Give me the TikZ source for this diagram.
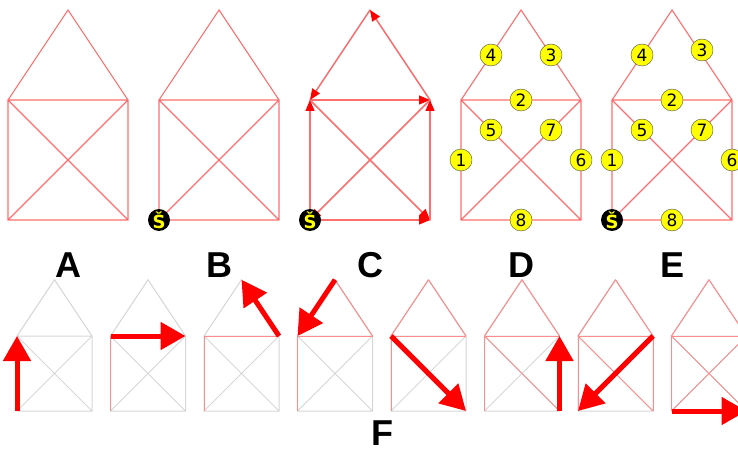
\documentclass[tikz,border=0pt]{standalone}
\usepackage{fontspec}
\setmainfont{DejaVu Sans}
\newfontfamily\lblfont{Liberation Sans}
\usepackage{xcolor}
\usetikzlibrary{arrows.meta, positioning, calc}
\definecolor{lightred}{RGB}{255,110,110}
\definecolor{pale}{RGB}{214,214,214}
\definecolor{tracered}{RGB}{255,140,140}
\definecolor{numyellow}{RGB}{255,255,0}
\def\route{bl/tl/.5/1, tl/tr/.5/2, tr/top/.5/3, top/tl/.5/4, tl/br/.25/5, br/tr/.5/6, tr/bl/.25/7, bl/br/.5/8}

\begin{document}
\begin{tikzpicture}[x=1pt, y=-1pt,
    hline/.style={draw=lightred, line width=1.1pt},
    pics/house/.style={code={
        \coordinate (-bl) at (0,0);
        \coordinate (-br) at (#1,0);
        \coordinate (-tr) at (#1,-#1);
        \coordinate (-tl) at (0,-#1);
        \coordinate (-top) at (#1/2,-1.75*#1);
        \path[hline] (-bl) -- (-br) -- (-tr) -- (-tl) -- cycle
            (-bl) -- (-tr) (-tl) -- (-br) (-tl) -- (-top) -- (-tr);
    }},
    start/.style={circle, fill=black, minimum size=22pt, inner sep=0pt,
        text=numyellow, font=\bfseries\fontsize{18}{18}\selectfont},
    num/.style={circle, draw=black!70, fill=numyellow, minimum size=22pt, inner sep=0pt,
        font=\fontsize{17}{17}\selectfont},
    lbl/.style={anchor=base, font=\lblfont\bfseries\fontsize{36}{36}\selectfont},
    trace/.style={draw=tracered, line width=1pt},
    small arrow/.style={draw=lightred, line width=1.3pt, -{Triangle[width=9pt, length=11pt, color=red]}},
    big arrow/.style={draw=red, line width=5pt, -{Triangle[width=27pt, length=25pt]}}]
    \useasboundingbox (0,0) rectangle (738,454);

    \foreach \h [count=\k] in {A,B,C,D,E} {
        \pic (h\h) at ({8+151*(\k-1)},220) {house=120};
        \node[lbl] (l\h) at ($(h\h-bl)!.5!(h\h-br)+(0,57)$) {\h};
    }

    \foreach \a/\b/\p/\n in \route
        \draw[small arrow] (hC-\a) -- (hC-\b);

    \foreach \h in {D,E}
        \foreach \a/\b/\p/\n in \route {
            \def\dy{0}
            \if\h E\ifnum\n=3 \def\dy{5}\fi\fi
            \path (h\h-\a) -- (h\h-\b) node[num, pos=\p, yshift=\dy pt] (n\h\n) {\n};
        }

    \node[start] (sB) at (hB-bl) {Š};
    \node[start] (sC) at (hC-bl) {Š};
    \node[start] (sE) at (hE-bl) {Š};

    \foreach \i in {1,...,8} {
        \pic[hline/.style={draw=pale, line width=1pt}] (f\i) at ({17+93.5*(\i-1)},411) {house=75};
        \foreach \a/\b/\p/\n in \route {
            \ifnum\n<\i \draw[trace] (f\i-\a) -- (f\i-\b); \fi
            \ifnum\n=\i \draw[big arrow] (f\i-\a) -- (f\i-\b); \fi
        }
    }
    \node[lbl] (lF) at (382,445) {F};
\end{tikzpicture}
\end{document}
